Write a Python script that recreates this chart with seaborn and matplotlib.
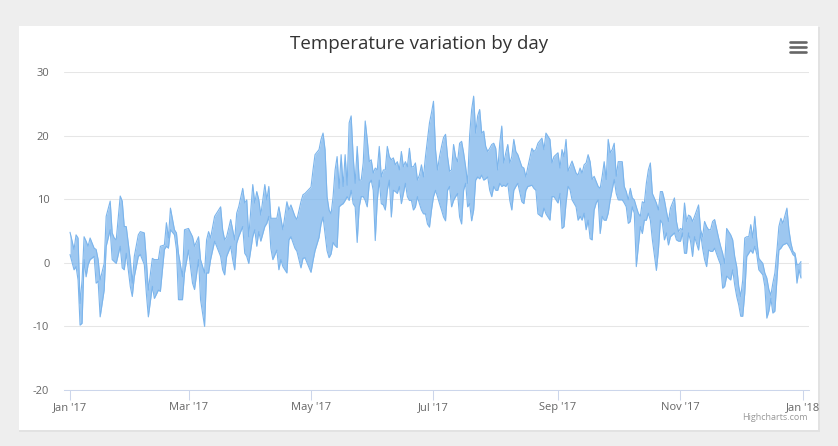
import numpy as np
import pandas as pd
import matplotlib
matplotlib.use('Agg')
import matplotlib.pyplot as plt
import matplotlib.dates as mdates
from matplotlib.patches import Rectangle
from matplotlib.lines import Line2D
import seaborn as sns

# day offset from 2017-01-01, daily min / max temperature
day = [0, 2, 3, 4, 5, 6, 7, 8, 9, 10, 12, 13, 14, 15, 17, 18, 20, 21, 22, 23,
       25, 26, 27, 28, 30, 31, 32, 34, 35, 37, 38, 39, 41, 42, 44, 45, 47, 48, 49, 50,
       52, 53, 54, 56, 57, 59, 61, 62, 64, 65, 67, 68, 69, 70, 72, 73, 75, 76, 77, 78,
       80, 81, 82, 83, 84, 86, 87, 88, 89, 91, 92, 93, 94, 95, 97, 98, 99, 100, 101, 103,
       104, 105, 106, 108, 109, 110, 112, 113, 115, 116, 117, 120, 121, 122, 124, 125, 126, 127, 128, 129,
       130, 131, 132, 133, 134, 135, 136, 137, 138, 139, 140, 141, 142, 143, 144, 145, 146, 147, 148, 149,
       150, 151, 152, 153, 154, 155, 156, 157, 158, 159, 160, 161, 162, 163, 164, 165, 166, 167, 168, 169,
       170, 171, 172, 173, 174, 175, 176, 177, 178, 179, 180, 181, 182, 183, 184, 185, 186, 187, 188, 189,
       190, 191, 192, 193, 194, 195, 196, 197, 198, 199, 200, 201, 202, 203, 204, 205, 206, 207, 208, 209,
       210, 211, 212, 213, 214, 215, 216, 217, 218, 219, 220, 221, 222, 223, 225, 226, 227, 228, 230, 231,
       232, 233, 235, 236, 237, 239, 240, 241, 242, 243, 244, 245, 246, 247, 248, 249, 250, 252, 253, 254,
       255, 256, 257, 258, 259, 260, 261, 262, 263, 264, 265, 266, 267, 268, 269, 270, 271, 272, 273, 275,
       276, 277, 278, 279, 280, 281, 282, 283, 284, 285, 286, 287, 288, 289, 290, 292, 293, 294, 295, 296,
       297, 298, 299, 301, 302, 303, 304, 305, 306, 307, 308, 309, 310, 311, 313, 314, 315, 316, 317, 318,
       319, 320, 321, 323, 324, 325, 326, 327, 329, 330, 331, 332, 333, 334, 335, 336, 337, 338, 339, 340,
       341, 342, 343, 345, 346, 347, 348, 349, 350, 351, 352, 353, 354, 355, 357, 358, 359, 360, 361, 362,
       363, 364]

low = [1.3, -1.1, -0.6, -2.7, -9.8, -9.5, 0.5, -2.2, -0.3, 0.5, 1.0, -3.2, -2.9, -8.5, -4.3, 2.6, 5.2, 0.5, 0.2, -0.1,
       2.6, -0.8, -1.1, 1.5, -3.7, -5.3, -2.2, 1.0, 1.3, -0.3, -4.8, -8.5, -3.7, -5.6, -4.3, -4.5, 2.1, 2.6, 2.3, 5.2,
       4.4, 2.1, -5.8, -5.8, -1.6, 2.0, -3.2, -4.2, 0.5, -5.8, -10.0, -1.6, -1.6, 0.5, 3.4, 2.6, 1.0, -1.1, -1.9, 1.0,
       2.6, 0.5, -1.1, 3.1, 4.1, 5.7, 1.5, 1.0, -0.1, 4.1, 5.2, 2.6, 4.9, 3.4, 5.7, 6.2, 7.3, 2.3, 0.5, 2.0,
       -1.1, 0.5, -0.6, -1.6, 3.6, 4.1, 2.3, 1.8, -0.8, 0.7, 0.8, -1.5, 0.3, 1.9, 4.0, 6.1, 7.2, 4.6, 1.9, 0.8,
       1.4, 3.2, 2.7, 2.4, 8.8, 9.1, 9.3, 9.8, 10.4, 9.8, 11.4, 9.3, 8.8, 3.2, 8.8, 10.4, 10.4, 9.8, 8.8, 12.5,
       13.0, 11.4, 3.5, 9.8, 13.0, 9.3, 9.1, 8.3, 11.4, 13.0, 7.2, 11.4, 11.2, 10.9, 12.0, 9.3, 10.9, 12.5, 10.4, 9.8,
       9.8, 8.3, 8.8, 10.4, 9.3, 8.3, 7.7, 7.7, 6.1, 5.6, 8.3, 10.4, 11.4, 10.4, 9.3, 8.3, 7.2, 6.6, 11.4, 12.0,
       8.8, 9.8, 10.4, 10.9, 7.2, 6.1, 11.4, 12.5, 8.8, 9.3, 6.6, 8.3, 13.0, 13.5, 13.2, 13.8, 13.0, 13.2, 13.5, 11.4,
       10.4, 12.0, 11.4, 11.4, 12.5, 12.0, 12.2, 12.0, 12.5, 9.8, 8.3, 11.4, 12.0, 12.5, 9.6, 9.3, 11.4, 12.0, 12.2, 11.7,
       11.4, 7.7, 7.2, 8.6, 7.7, 6.7, 10.4, 10.4, 9.9, 9.4, 10.9, 5.4, 5.7, 9.4, 12.0, 11.5, 9.9, 8.8, 6.7, 7.3,
       6.7, 7.8, 5.2, 6.7, 3.8, 3.6, 8.3, 9.4, 9.9, 4.6, 7.3, 6.7, 6.7, 7.8, 9.9, 11.5, 13.1, 10.9, 9.9, 9.9,
       9.4, 8.8, 6.2, 6.5, 8.8, 7.8, -0.6, 2.5, 5.7, 4.6, 6.7, 6.7, 7.8, 6.7, 3.6, -1.2, 2.0, 6.7, 6.2, 3.6,
       4.7, 2.8, 4.1, 4.7, 3.6, 3.4, 3.4, 4.7, 1.5, 1.5, 4.7, 3.4, 1.0, 4.1, 2.0, 4.7, 2.3, 0.5, -0.6, 2.0,
       1.8, 1.8, 2.3, 0.5, -0.3, -4.0, -3.7, -2.1, -2.7, -1.1, -3.5, -5.3, -6.6, -8.4, -8.4, -4.8, 1.0, 1.5, 2.0, 1.5,
       2.6, 1.3, -1.1, -1.9, -3.7, -8.7, -7.6, -5.6, -7.9, -7.6, -2.7, 2.0, 2.3, 2.8, 3.1, 2.6, 2.0, 1.3, 1.0, -3.2,
       -1.1, -2.4]

high = [4.8, 2.1, 4.4, 3.9, -6.4, -2.7, 4.1, 3.4, 2.6, 3.9, 2.3, 2.1, 0.5, -2.7, -0.1, 7.3, 9.7, 4.7, 3.9, 3.6,
        10.5, 9.7, 5.7, 5.7, 0.5, -3.2, 1.0, 4.4, 4.9, 4.7, 0.5, -4.3, 0.7, 0.5, 0.5, 2.6, 2.8, 6.3, 3.9, 8.6,
        5.2, 4.7, 1.5, -2.2, 5.2, 5.4, 4.1, 2.6, 4.1, 0.5, -1.6, 3.6, 4.9, 3.9, 7.3, 7.8, 8.8, 5.2, 3.6, 4.1,
        6.8, 5.2, 3.6, 7.8, 8.8, 11.7, 9.4, 9.9, 4.1, 12.3, 9.4, 11.2, 9.9, 7.5, 12.3, 9.9, 12.0, 7.0, 7.0, 7.0,
        8.8, 7.0, 5.2, 9.6, 8.3, 9.1, 7.3, 6.8, 9.6, 10.7, 10.9, 11.9, 14.6, 17.0, 17.8, 19.4, 20.4, 17.8, 10.4, 8.3,
        7.7, 10.4, 14.6, 16.7, 11.7, 17.0, 12.0, 17.0, 12.2, 22.0, 23.1, 16.7, 12.5, 18.3, 13.0, 13.0, 15.7, 22.3, 19.4, 15.9,
        16.2, 14.1, 14.9, 14.6, 18.3, 13.5, 14.6, 14.6, 18.3, 16.7, 16.2, 16.5, 15.4, 15.9, 14.6, 17.5, 15.1, 15.9, 15.1, 18.0,
        15.1, 15.1, 15.7, 13.0, 13.8, 15.4, 13.5, 16.7, 19.4, 22.0, 23.6, 25.4, 17.8, 14.6, 16.7, 18.3, 19.7, 20.2, 16.7, 14.4,
        14.6, 18.6, 16.7, 15.9, 18.8, 19.1, 17.3, 15.1, 12.5, 20.1, 24.1, 26.2, 20.4, 23.1, 24.1, 20.4, 20.7, 18.3, 17.5, 18.0,
        18.6, 18.8, 18.0, 14.6, 18.8, 21.5, 15.7, 17.3, 18.6, 15.7, 16.7, 19.4, 17.5, 17.0, 15.1, 14.9, 13.5, 15.1, 18.0, 17.5,
        17.8, 18.8, 19.6, 17.8, 20.4, 19.4, 15.7, 16.7, 17.0, 17.3, 14.9, 17.8, 16.7, 19.4, 14.4, 15.2, 16.0, 14.1, 13.8, 14.9,
        14.1, 15.4, 15.7, 17.0, 15.9, 13.1, 13.6, 12.8, 12.0, 11.7, 13.6, 15.9, 13.1, 19.4, 17.3, 17.8, 18.8, 13.6, 15.9, 15.9,
        12.0, 11.2, 9.9, 11.7, 10.2, 9.9, 8.8, 7.8, 7.3, 9.6, 9.4, 12.5, 14.6, 15.7, 10.9, 9.4, 8.3, 11.2, 11.2, 9.9,
        8.1, 6.5, 8.6, 10.2, 6.5, 4.9, 5.4, 5.2, 9.4, 6.5, 7.5, 7.3, 6.5, 7.3, 9.1, 5.2, 4.1, 6.5, 5.7, 5.2,
        5.2, 6.5, 6.8, 3.9, 2.6, 1.5, -0.1, 5.4, 4.4, 3.6, 1.0, -0.6, -3.7, -5.3, -2.7, 3.9, 4.1, 4.1, 6.0, 3.9,
        7.3, 3.6, 0.7, -0.1, -1.6, -2.4, -4.2, -5.1, -3.2, -1.6, 1.8, 5.7, 7.0, 6.2, 8.6, 5.2, 3.1, 1.8, 1.5, -0.3,
        -0.3, 0.2]

tick_dates = ['2017-01-01', '2017-03-01', '2017-05-01', '2017-07-01',
              '2017-09-01', '2017-11-01', '2018-01-01']
y_ticks = [-20, -10, 0, 10, 20, 30]

start = pd.Timestamp('2017-01-01')
df = pd.DataFrame({'date': start + pd.to_timedelta(day, unit='D'),
                   'low': low, 'high': high})

sns.set_theme(style='white')
plt.rcParams['font.family'] = ['Open Sans', 'DejaVu Sans']
plt.rcParams['axes.unicode_minus'] = False

fig = plt.figure(figsize=(8.38, 4.46), dpi=100)
fig.patch.set_facecolor('#eeeeee')

# white card with a faint shadow
fig.add_artist(Rectangle((19 / 838, 1 - 432 / 446), 801 / 838, 405 / 446,
                         transform=fig.transFigure, facecolor='#e2e2e2',
                         edgecolor='none', zorder=-6))
fig.add_artist(Rectangle((19 / 838, 1 - 430 / 446), 799 / 838, 404 / 446,
                         transform=fig.transFigure, facecolor='white',
                         edgecolor='none', zorder=-5))

ax = fig.add_axes([64 / 838, 1 - 390 / 446, 745 / 838, 318 / 446])
ax.set_facecolor('none')

color = '#7cb5ec'
ax.fill_between(df['date'], df['low'], df['high'], color=color, alpha=0.75, lw=0)
sns.lineplot(data=df, x='date', y='high', ax=ax, color=color, lw=0.8, estimator=None)
sns.lineplot(data=df, x='date', y='low', ax=ax, color=color, lw=0.8, estimator=None)

ax.set_xlim(start - pd.Timedelta(days=3), start + pd.Timedelta(days=368))
ax.set_ylim(-20, 30)
ax.set_yticks(y_ticks)
ax.set_xticks(pd.to_datetime(tick_dates))
ax.xaxis.set_major_formatter(mdates.DateFormatter("%b '%y"))
ax.set_xlabel('')
ax.set_ylabel('')

ax.yaxis.grid(True, color='#e6e6e6', lw=0.75)
ax.set_axisbelow(True)
for side in ['left', 'top', 'right']:
    ax.spines[side].set_visible(False)
ax.spines['bottom'].set_color('#ccd6eb')
ax.spines['bottom'].set_linewidth(0.75)

ax.tick_params(axis='x', direction='out', length=7.2, width=0.75, color='#ccd6eb',
               labelsize=8, labelcolor='#666666', pad=1.5, bottom=True)
ax.tick_params(axis='y', length=0, labelsize=8, labelcolor='#666666', pad=10.5)

fig.text(0.5, 1 - 44 / 446, 'Temperature variation by day', ha='center', va='center',
         fontsize=13.5, color='#333333')
fig.text(808 / 838, 1 - 418 / 446, 'Highcharts.com', ha='right', va='center',
         fontsize=6.5, color='#999999')

# context menu icon
for yy in [42.3, 47.3, 52.3]:
    fig.add_artist(Line2D([790 / 838, 806 / 838], [1 - yy / 446, 1 - yy / 446],
                          transform=fig.transFigure, color='#666666', lw=1.9,
                          solid_capstyle='round'))

fig.savefig('out.png', dpi=100, facecolor=fig.get_facecolor())
